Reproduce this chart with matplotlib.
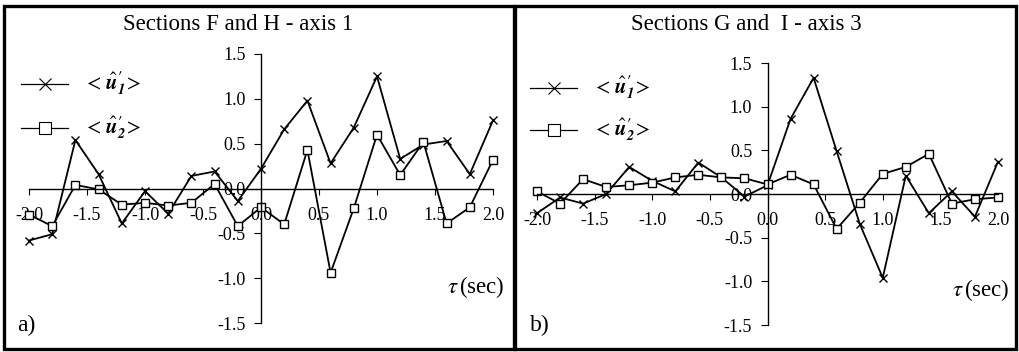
import matplotlib
matplotlib.use("Agg")
import matplotlib.pyplot as plt
from matplotlib.patches import Rectangle

plt.rcParams['font.family'] = ['Liberation Serif', 'DejaVu Serif']
plt.rcParams['mathtext.fontset'] = 'stix'

tau = [-2.0, -1.8, -1.6, -1.4, -1.2, -1.0, -0.8, -0.6, -0.4, -0.2, 0.0,
       0.2, 0.4, 0.6, 0.8, 1.0, 1.2, 1.4, 1.6, 1.8, 2.0]

# sections F and H - axis 1
a_u1 = [-0.58, -0.51, 0.54, 0.16, -0.39, -0.03, -0.28, 0.14, 0.19, -0.14, 0.22,
        0.66, 0.98, 0.28, 0.68, 1.25, 0.33, 0.49, 0.53, 0.16, 0.76]
a_u2 = [-0.29, -0.42, 0.04, -0.01, -0.18, -0.16, -0.19, -0.16, 0.05, -0.42, -0.21,
        -0.40, 0.43, -0.94, -0.22, 0.60, 0.15, 0.52, -0.39, -0.21, 0.32]

# sections G and I - axis 3
b_u1 = [-0.22, -0.04, -0.11, 0.00, 0.31, 0.15, 0.03, 0.36, 0.19, -0.03, 0.10,
        0.86, 1.33, 0.49, -0.34, -0.96, 0.21, -0.22, 0.03, -0.26, 0.37]
b_u2 = [0.03, -0.11, 0.17, 0.08, 0.10, 0.13, 0.19, 0.22, 0.19, 0.18, 0.11,
        0.22, 0.11, -0.40, -0.10, 0.23, 0.31, 0.46, -0.11, -0.06, -0.04]

xticks = [-2.0, -1.5, -1.0, -0.5, 0.0, 0.5, 1.0, 1.5, 2.0]
yticks = [-1.5, -1.0, -0.5, 0.0, 0.5, 1.0, 1.5]

label1 = r"$<\,\hat{\mathbfit{u}}^{\mathbf{\prime}}_{\mathbfit{1}}\!>$"
label2 = r"$<\,\hat{\mathbfit{u}}^{\mathbf{\prime}}_{\mathbfit{2}}\!>$"

W, H = 1019, 352
fig = plt.figure(figsize=(W / 100, H / 100), dpi=100)


def px(x0, y0, x1, y1):
    # pixel box (top-left origin) -> figure fraction rect
    return [x0 / W, 1 - y1 / H, (x1 - x0) / W, (y1 - y0) / H]


def panel(rect, u1, u2, title, tag, title_x, tag_x, leg_x, leg_y):
    ax = fig.add_axes(rect)
    ax.plot(tau, u1, color='black', lw=1.3, marker='x', ms=6, mew=1.0, clip_on=False)
    ax.plot(tau, u2, color='black', lw=1.3, marker='s', ms=5.5, mew=1.0, mfc='white',
            clip_on=False)
    ax.set_xlim(-2.0, 2.0)
    ax.set_ylim(-1.5, 1.5)
    ax.spines['left'].set_position(('data', 0))
    ax.spines['bottom'].set_position(('data', 0))
    ax.spines['top'].set_visible(False)
    ax.spines['right'].set_visible(False)
    ax.spines['left'].set_linewidth(1.0)
    ax.spines['bottom'].set_linewidth(1.0)
    ax.set_xticks(xticks)
    ax.set_yticks(yticks)
    ax.set_xticklabels([f'{v:.1f}' for v in xticks])
    ax.set_yticklabels([f'{v:.1f}' for v in yticks])
    ax.tick_params(axis='x', direction='out', length=4, pad=9, labelsize=13)
    ax.tick_params(axis='y', direction='out', length=5, pad=6, labelsize=13)
    ax.patch.set_alpha(0)
    ax.text(2.1, -1.1, r'$\tau\,$(sec)', ha='right', va='center', fontsize=16.5)

    fig.text(title_x / W, 1 - 25 / H, title, ha='center', va='center', fontsize=16.5)
    fig.text(tag_x / W, 1 - 325 / H, tag, ha='left', va='center', fontsize=17)

    # hand made legend
    for (yy, mk, lab) in [(leg_y[0], 'x', label1), (leg_y[1], 's', label2)]:
        fig.add_artist(plt.Line2D([(leg_x) / W, (leg_x + 47) / W], [1 - yy / H] * 2,
                                  color='black', lw=0.9))
        fig.add_artist(plt.Line2D([(leg_x + 24) / W], [1 - yy / H], color='black',
                                  marker=mk, ms=9 if mk == 'x' else 8, mew=0.8,
                                  mfc='white', ls='none'))
        fig.text((leg_x + 62) / W, 1 - yy / H, lab, ha='left', va='center', fontsize=15)
    return ax


panel(px(29, 54, 493, 323), a_u1, a_u2, 'Sections F and H - axis 1', 'a)',
      238, 17, 21, (84, 128))
panel(px(537, 63, 998, 325), b_u1, b_u2, 'Sections G and  I - axis 3', 'b)',
      746, 530, 530, (88, 130))

# panel frames
fig.add_artist(Rectangle((4 / W, 1 - 349 / H), 510 / W, 343 / H, transform=fig.transFigure,
                         fill=False, lw=2.4, ec='black'))
fig.add_artist(Rectangle((515 / W, 1 - 349 / H), 501 / W, 343 / H, transform=fig.transFigure,
                         fill=False, lw=2.4, ec='black'))

fig.savefig('out.png', dpi=100)
